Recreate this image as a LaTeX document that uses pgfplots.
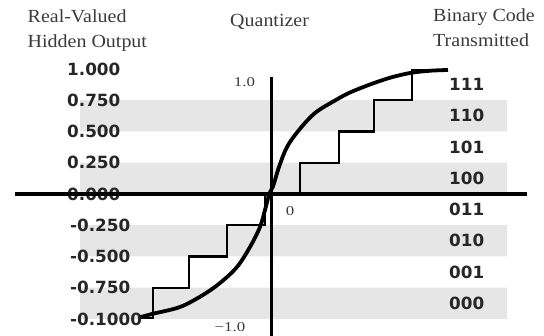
\documentclass[border=0pt]{standalone}
\usepackage{pgfplots}
\pgfplotsset{compat=1.18}
\usepackage{fontspec}
\setmainfont{Liberation Serif}
\newfontfamily\dv{DejaVu Sans}
\definecolor{band}{HTML}{E6E6E6}
\definecolor{txt}{HTML}{262626}
\definecolor{hdr}{HTML}{3A3A3A}
\tikzset{
  tl/.style={anchor=west, font=\dv\bfseries\fontsize{16.8}{18}\selectfont, text=txt, inner sep=0pt},
  hd/.style={anchor=base west, font=\fontsize{18.5}{22}\selectfont, text=hdr, inner sep=0pt, xscale=1.08},
  sm/.style={anchor=base, font=\fontsize{13.5}{15}\selectfont, text=hdr, inner sep=0pt, xscale=1.25},
}
\begin{document}
\begin{tikzpicture}
\begin{axis}[
  at={(0,0)}, anchor=south west,
  width=544pt, height=336pt, scale only axis,
  xmin=-2.172, xmax=2.18, ymin=-1.136, ymax=1.552,
  hide axis, clip=false,
]
% grey bands
\addplot[fill=band, draw=none] coordinates {(-1.532,0.5) (1.884,0.5) (1.884,0.75) (-1.532,0.75) (-1.532,0.5)};
\addplot[fill=band, draw=none] coordinates {(-1.532,0) (1.884,0) (1.884,0.25) (-1.532,0.25) (-1.532,0)};
\addplot[fill=band, draw=none] coordinates {(-1.532,-0.5) (1.884,-0.5) (1.884,-0.25) (-1.532,-0.25) (-1.532,-0.5)};
\addplot[fill=band, draw=none] coordinates {(-1.532,-1) (1.884,-1) (1.884,-0.75) (-1.532,-0.75) (-1.532,-1)};

% level labels
\node[tl] at (axis cs:-1.636,1) {1.000};
\node[tl] at (axis cs:-1.636,0.75) {0.750};
\node[tl] at (axis cs:-1.636,0.5) {0.500};
\node[tl] at (axis cs:-1.636,0.25) {0.250};
\node[tl] at (axis cs:-1.636,0) {0.000};
\node[tl] at (axis cs:-1.612,-0.25) {-0.250};
\node[tl] at (axis cs:-1.612,-0.5) {-0.500};
\node[tl] at (axis cs:-1.612,-0.75) {-0.750};
\node[tl] at (axis cs:-1.612,-1) {-0.1000};

% binary codes
\node[tl] at (axis cs:1.42,0.875) {111};
\node[tl] at (axis cs:1.42,0.625) {110};
\node[tl] at (axis cs:1.42,0.375) {101};
\node[tl] at (axis cs:1.42,0.125) {100};
\node[tl] at (axis cs:1.42,-0.125) {011};
\node[tl] at (axis cs:1.42,-0.375) {010};
\node[tl] at (axis cs:1.42,-0.625) {001};
\node[tl] at (axis cs:1.42,-0.875) {000};

% headers
\node[hd] at (axis cs:-1.952,1.368) {Real-Valued};
\node[hd] at (axis cs:-1.952,1.168) {Hidden Output};
\node[hd] at (axis cs:-0.332,1.336) {Quantizer};
\node[hd] at (axis cs:1.292,1.376) {Binary Code};
\node[hd] at (axis cs:1.292,1.180) {Transmitted};

% small axis labels
\node[sm] at (axis cs:-0.216,0.856) {1.0};
\node[sm] at (axis cs:-0.332,-1.100) {−1.0};
\node[sm] at (axis cs:0.148,-0.172) {0};

% staircase
\addplot[black, line width=2.4pt, line join=miter] coordinates {
  (-1.052,-0.99) (-0.948,-0.99) (-0.948,-0.75) (-0.66,-0.75) (-0.66,-0.5)
  (-0.356,-0.5) (-0.356,-0.25) (-0.052,-0.25) (-0.052,0) (0.228,0)
  (0.228,0.25) (0.54,0.25) (0.54,0.5) (0.82,0.5) (0.82,0.75)
  (1.124,0.75) (1.124,0.99) (1.412,0.99)};

% curve
\addplot[black, line width=3.8pt, smooth, tension=0.55] coordinates {
  (-1.052,-0.986) (-0.948,-0.958) (-0.732,-0.904) (-0.552,-0.81) (-0.412,-0.712)
  (-0.276,-0.584) (-0.172,-0.424) (-0.092,-0.264) (-0.052,-0.128)
  (-0.018,0) (0.012,0.06) (0.06,0.216) (0.124,0.376) (0.22,0.512)
  (0.348,0.648) (0.508,0.748) (0.628,0.812) (0.788,0.876) (0.948,0.93)
  (1.108,0.968) (1.268,0.986) (1.412,0.992)};

% axes
\addplot[black, line width=3.2pt] coordinates {(-2.052,0) (2.044,0)};
\addplot[black, line width=3pt] coordinates {(0,0.936) (0,-1.16)};
\end{axis}
\pgfresetboundingbox
\useasboundingbox (current axis.south west) rectangle (current axis.north east);
\end{tikzpicture}
\end{document}
